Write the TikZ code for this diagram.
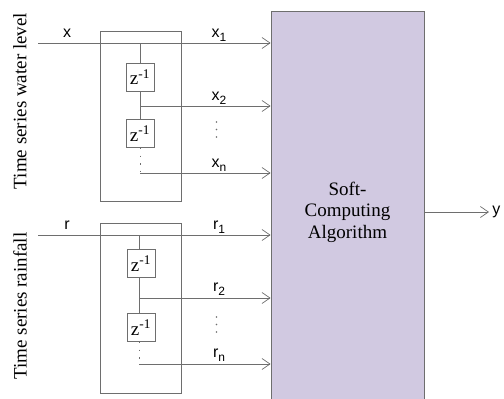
\documentclass[tikz,border=0pt]{standalone}
\usepackage{fontspec}
\setmainfont{Liberation Serif}
\setsansfont{Liberation Sans}
\usepackage{tikz}
\usetikzlibrary{arrows.meta,positioning,calc}
\definecolor{scafill}{RGB}{209,201,225}
\definecolor{linegray}{RGB}{110,110,110}
\newcommand{\lowidx}[1]{\raisebox{-0.28em}{\fontsize{12pt}{12pt}\selectfont #1}}

\begin{document}
\begin{tikzpicture}[
            x=1pt, y=-1pt,
            line width=0.8pt,
            algo/.style={
                draw=linegray,
                fill=scafill,
                rectangle,
                align=center,
                minimum width=153pt,
                minimum height=402pt,
                font=\fontsize{19pt}{21.5pt}\selectfont
            },
            tapbox/.style={
                draw=linegray,
                rectangle,
                minimum width=81pt,
                minimum height=170pt
            },
            delay/.style={
                draw=linegray,
                rectangle,
                inner sep=0pt,
                minimum size=28pt,
                font=\fontsize{19pt}{19pt}\selectfont
            },
            arrow/.style={
                -{Straight Barb[length=8pt,width=11pt,line width=0.7pt]},
                draw=linegray
            },
            wire/.style={
                draw=linegray
            },
            taps/.style={
                draw=linegray,
                dash pattern=on 1.4pt off 6.2pt
            },
            siglabel/.style={
                font=\sffamily\fontsize{16pt}{16pt}\selectfont,
                inner sep=0pt,
                anchor=base
            },
            serieslabel/.style={
                font=\fontsize{19pt}{19pt}\selectfont,
                rotate=90
            }
            ]

            \useasboundingbox (0,0) rectangle (504,399);

            % soft-computing block
            \node[algo] (algo) at (347.5,212)
            {Soft-\\Computing\\Algorithm};

            % water level taps
            \node[tapbox] (wbox) at (140.5,116.5) {};
            \node[delay] (wz1) at (140,77) {z\textsuperscript{-1}};
            \node[delay] (wz2) at (140,133.5) {z\textsuperscript{-1}};

            \coordinate (xin) at (38,43);
            \coordinate (xt1) at (140,43);
            \coordinate (xt2) at (140,106);
            \coordinate (xtn) at (140,173);

            \draw[arrow] (xin) -- (algo.west |- xin);
            \draw[wire] (xt1) -- (wz1.north);
            \draw[wire] (wz1.south) -- (wz2.north);
            \draw[arrow] (xt2) -- (algo.west |- xt2);
            \draw[taps] (wz2.south) -- (xtn);
            \draw[arrow] (xtn) -- (algo.west |- xtn);

            \node[siglabel] (xlab) at (67,37) {x};
            \node[siglabel] (x1lab) at (219,37) {x\lowidx{1}};
            \node[siglabel] (x2lab) at (219,100) {x\lowidx{2}};
            \node[siglabel] (xnlab) at (219,167) {x\lowidx{n}};
            \foreach \yy in {122,129.5,137}
                \fill[linegray] (216.5,\yy) circle (0.9pt);

            % rainfall taps
            \node[tapbox] (rbox) at (140.5,308) {};
            \node[delay] (rz1) at (141,263.5) {z\textsuperscript{-1}};
            \node[delay] (rz2) at (141,327.5) {z\textsuperscript{-1}};

            \coordinate (rin) at (38,235);
            \coordinate (rt1) at (139,235);
            \coordinate (rt2) at (139,298);
            \coordinate (rtn) at (139,364);

            \draw[arrow] (rin) -- (algo.west |- rin);
            \draw[wire] (rt1) -- (rt1 |- rz1.north);
            \draw[wire] (rt1 |- rz1.south) -- (rt1 |- rz2.north);
            \draw[arrow] (rt2) -- (algo.west |- rt2);
            \draw[taps] (rt1 |- rz2.south) -- (rtn);
            \draw[arrow] (rtn) -- (algo.west |- rtn);

            \node[siglabel] (rlab) at (67,229) {r};
            \node[siglabel] (r1lab) at (219,229) {r\lowidx{1}};
            \node[siglabel] (r2lab) at (219,291) {r\lowidx{2}};
            \node[siglabel] (rnlab) at (219,357) {r\lowidx{n}};
            \foreach \yy in {317,324.5,332}
                \fill[linegray] (216.5,\yy) circle (0.9pt);

            % output
            \coordinate (yend) at (489,212);
            \draw[arrow] (algo.east) -- (yend);
            \node[siglabel, anchor=west] (ylab) at ($(yend)+(3,0)$) {y};

            % series names
            \node[serieslabel] (wlevel) at (20,101) {Time series water level};
            \node[serieslabel] (rfall) at (20,306) {Time series rainfall};

        \end{tikzpicture}
\end{document}
